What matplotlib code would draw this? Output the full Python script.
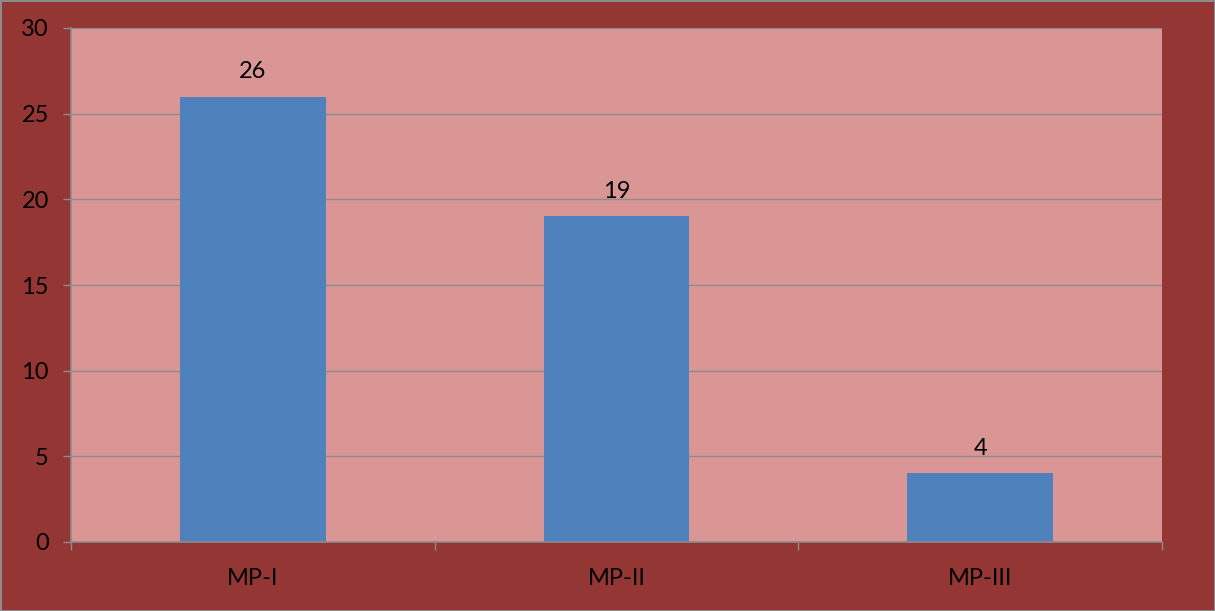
import matplotlib
matplotlib.use("Agg")
import matplotlib.pyplot as plt

categories = ["MP-I", "MP-II", "MP-III"]
values = [26, 19, 4]
y_ticks = [0, 5, 10, 15, 20, 25, 30]

plt.rcParams['font.family'] = ['Lato', 'DejaVu Sans']

fig = plt.figure(figsize=(12.15, 6.11), dpi=100, facecolor="#943634",
                 edgecolor="#8c8c8c", linewidth=2)
ax = fig.add_axes([71 / 1215, 69 / 611, 1091 / 1215, 514 / 611])
ax.set_facecolor("#d99694")

x = list(range(len(categories)))
bars = ax.bar(x, values, width=0.4, color="#4f81bd", zorder=3)
for xi, v in zip(x, values):
    ax.text(xi, v + 0.85, str(v), ha="center", va="bottom", fontsize=17, color="black", zorder=4)

ax.set_xlim(-0.5, len(categories) - 0.5)
ax.set_ylim(0, 30)
ax.set_yticks(y_ticks)
ax.set_xticks(x)
ax.set_xticklabels(categories, fontsize=17)
ax.set_xticks([i - 0.5 for i in range(len(categories) + 1)], minor=True)
ax.tick_params(axis="x", which="major", length=0, pad=19)
ax.tick_params(axis="x", which="minor", length=6, color="#8c8c8c", width=1, direction="out")
ax.tick_params(axis="y", length=6, color="#8c8c8c", width=1, labelsize=17, pad=10)

ax.yaxis.grid(True, color="#8c8c8c", linewidth=1, zorder=0)
for side in ["top", "right"]:
    ax.spines[side].set_visible(False)
for side in ["left", "bottom"]:
    ax.spines[side].set_color("#8c8c8c")
    ax.spines[side].set_linewidth(1.2)
    ax.spines[side].set_zorder(5)

fig.savefig("out.png", dpi=100, facecolor=fig.get_facecolor(), edgecolor=fig.get_edgecolor())
